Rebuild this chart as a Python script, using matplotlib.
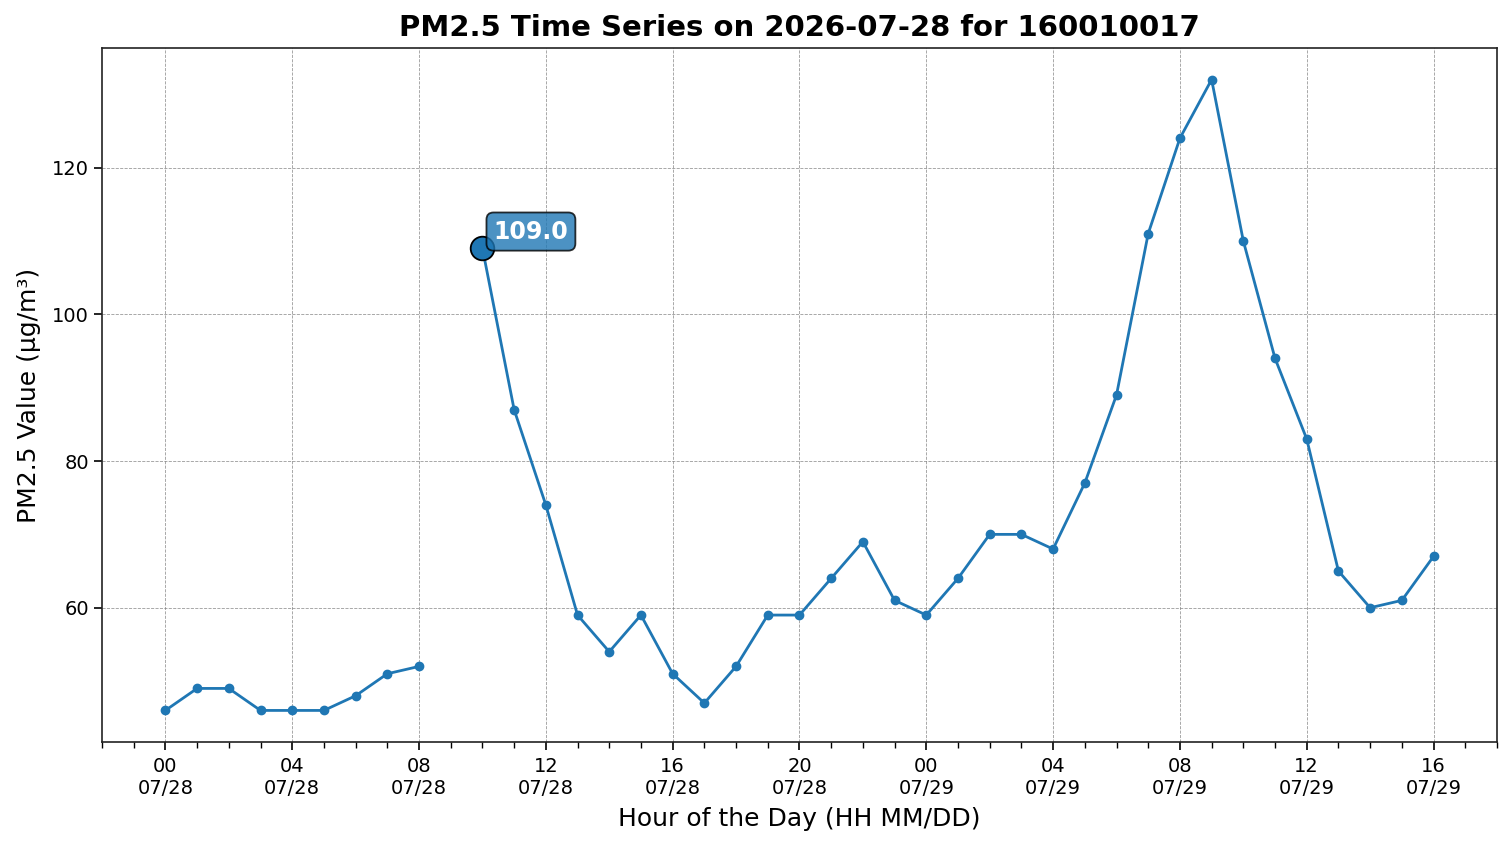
import numpy as np
import pandas as pd
import matplotlib
matplotlib.use("Agg")
import matplotlib.pyplot as plt
import matplotlib.dates as mdates

# hourly PM2.5 readings, 2026-07-28 00:00 .. 2026-07-29 16:00 (09:00 missing)
start = "2026-07-28 00:00"
pm25 = [46, 49, 49, 46, 46, 46, 48, 51, 52, np.nan,
        109, 87, 74, 59, 54, 59, 51, 47, 52, 59,
        59, 64, 69, 61, 59, 64, 70, 70, 68, 77,
        89, 111, 124, 132, 110, 94, 83, 65, 60, 61, 67]
highlight_idx = 10
title = "PM2.5 Time Series on 2026-07-28 for 160010017"

times = pd.date_range(start, periods=len(pm25), freq="h")

fig = plt.figure(figsize=(15.11, 8.47), dpi=100)
ax = fig.add_subplot(111)
fig.subplots_adjust(left=0.0675, right=0.9907, top=0.9433, bottom=0.124)

ax.plot(times, pm25, marker="o", markersize=6, linewidth=2, color="#1f77b4")

# highlight the current hour
hx, hy = times[highlight_idx], pm25[highlight_idx]
ax.plot(hx, hy, marker="o", markersize=17, color="#1f77b4",
        markeredgecolor="black", markeredgewidth=1.3, zorder=5)
ax.annotate(f"{hy:.1f}", xy=(hx, hy), xytext=(8, 7), textcoords="offset points",
            fontsize=17, fontweight="bold", color="white",
            bbox=dict(boxstyle="round,pad=0.3", facecolor="#1f77b4", alpha=0.8,
                      edgecolor="black", linewidth=1.3),
            zorder=6)

ax.xaxis.set_major_locator(mdates.HourLocator(byhour=range(0, 24, 4)))
ax.xaxis.set_minor_locator(mdates.HourLocator())
ax.xaxis.set_major_formatter(mdates.DateFormatter("%H\n%m/%d"))

ax.grid(True, which="major", linestyle="--", linewidth=0.6, color="gray", alpha=0.8)
ax.tick_params(axis="both", which="major", labelsize=14, length=6, width=1.2)
ax.tick_params(axis="x", which="major", pad=5)
ax.tick_params(axis="x", which="minor", length=4, width=1.0)
for sp in ax.spines.values():
    sp.set_linewidth(1.2)
    sp.set_color("#222222")

ax.set_title(title, fontsize=21, fontweight="bold", pad=9)
ax.set_xlabel("Hour of the Day (HH MM/DD)", fontsize=18, labelpad=6)
ax.set_ylabel("PM2.5 Value (µg/m³)", fontsize=18, labelpad=8)

plt.savefig("out.png", dpi=100)
